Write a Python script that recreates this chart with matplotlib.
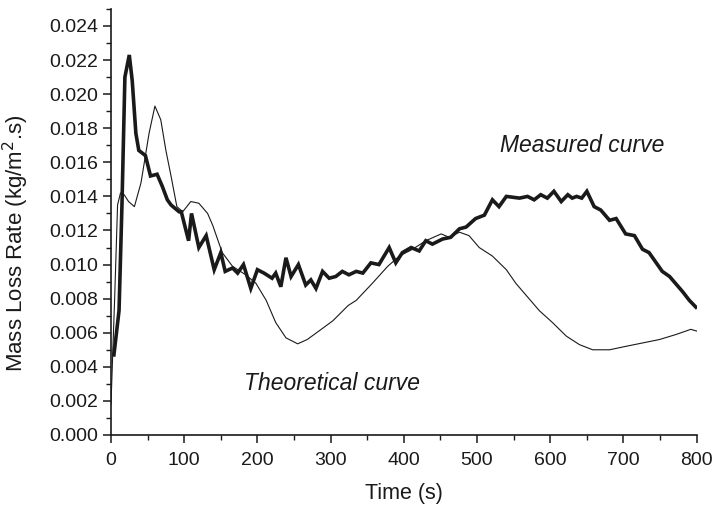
import matplotlib
matplotlib.use("Agg")
import matplotlib.pyplot as plt
from matplotlib.ticker import MultipleLocator, FormatStrFormatter

# Measured mass loss rate (thick line)
measured_t = [4, 11, 15, 19, 25, 29, 34, 38, 47, 54, 63, 70, 77, 82, 93, 96,
              106, 110, 120, 130, 141, 150, 156, 166, 173, 181, 191, 200, 209,
              220, 225, 232, 239, 246, 256, 266, 273, 280, 289, 298, 307, 316,
              325, 335, 344, 355, 366, 380, 389, 398, 410, 421, 430, 439, 453,
              464, 476, 485, 498, 510, 521, 530, 540, 558, 569, 578, 587, 596,
              605, 615, 624, 630, 636, 643, 650, 660, 669, 681, 690, 703, 715,
              726, 735, 753, 763, 781, 790, 799]
measured_v = [0.0047, 0.0073, 0.0135, 0.0210, 0.0223, 0.0208, 0.0177, 0.0167,
              0.0164, 0.0152, 0.0153, 0.0146, 0.0138, 0.0135, 0.0131, 0.0131,
              0.0114, 0.0130, 0.0110, 0.0117, 0.0097, 0.0107, 0.0096, 0.0098,
              0.0095, 0.0100, 0.0086, 0.0097, 0.0095, 0.0092, 0.0095, 0.0087,
              0.0104, 0.0093, 0.0100, 0.0088, 0.0091, 0.0086, 0.0096, 0.0092,
              0.0093, 0.0096, 0.0094, 0.0096, 0.0095, 0.0101, 0.0100, 0.0110,
              0.0101, 0.0107, 0.0110, 0.0108, 0.0114, 0.0112, 0.0115, 0.0116,
              0.0121, 0.0122, 0.0127, 0.0129, 0.0138, 0.0134, 0.0140, 0.0139,
              0.0140, 0.0138, 0.0141, 0.0139, 0.0143, 0.0137, 0.0141, 0.0139,
              0.0140, 0.0139, 0.0143, 0.0134, 0.0132, 0.0126, 0.0127, 0.0118,
              0.0117, 0.0109, 0.0107, 0.0096, 0.0093, 0.0084, 0.0079, 0.0075]

# Theoretical mass loss rate (thin line)
theory_t = [0, 5, 9, 13, 18, 24, 32, 41, 52, 60, 68, 75, 82, 90, 98, 109, 120,
            132, 139, 152, 166, 184, 198, 212, 225, 239, 255, 268, 284, 303,
            324, 335, 357, 378, 394, 412, 430, 451, 462, 476, 489, 503, 521,
            540, 553, 567, 585, 603, 622, 640, 658, 681, 703, 726, 749, 772,
            792, 800]
theory_v = [0.0018, 0.0080, 0.0135, 0.0142, 0.0141, 0.0137, 0.0134, 0.0148,
            0.0177, 0.0193, 0.0185, 0.0167, 0.0152, 0.0134, 0.0131, 0.0137,
            0.0136, 0.0130, 0.0123, 0.0107, 0.0099, 0.0094, 0.0089, 0.0079,
            0.0066, 0.0057, 0.00535, 0.0056, 0.0061, 0.0067, 0.0076, 0.0079,
            0.0089, 0.0099, 0.0105, 0.0109, 0.0114, 0.0118, 0.0116, 0.0119,
            0.0117, 0.0110, 0.0105, 0.0097, 0.0089, 0.0082, 0.0073, 0.0066,
            0.0058, 0.0053, 0.0050, 0.0050, 0.0052, 0.0054, 0.0056, 0.0059,
            0.0062, 0.0061]

plt.rcParams["font.family"] = ["Liberation Sans", "DejaVu Sans"]

fig = plt.figure(figsize=(7.16, 5.09), dpi=100)
ax = fig.add_axes([0.155, 0.1454, 0.818, 0.837])

ink = "#1a1a1a"
ax.plot(theory_t, theory_v, color=ink, lw=0.8, zorder=3)
ax.plot(measured_t, measured_v, color=ink, lw=2.6, solid_joinstyle="miter", zorder=4)

ax.text(531, 0.0170, "Measured curve", style="italic", fontsize=16.5,
        color=ink, va="center", ha="left")
ax.text(182, 0.0030, "Theoretical curve", style="italic", fontsize=16.5,
        color=ink, va="center", ha="left")

ax.set_xlim(0, 800)
ax.set_ylim(0, 0.025)
ax.xaxis.set_major_locator(MultipleLocator(100))
ax.xaxis.set_minor_locator(MultipleLocator(50))
ax.yaxis.set_major_locator(MultipleLocator(0.002))
ax.yaxis.set_minor_locator(MultipleLocator(0.001))
ax.yaxis.set_major_formatter(FormatStrFormatter("%.3f"))

for side in ("top", "right"):
    ax.spines[side].set_visible(False)
for side in ("left", "bottom"):
    ax.spines[side].set_linewidth(1.2)
    ax.spines[side].set_color(ink)

ax.tick_params(which="major", direction="out", length=6, width=1.1,
               labelsize=14, colors=ink, pad=3)
ax.tick_params(axis="x", which="major", pad=6)
ax.tick_params(which="minor", direction="out", length=3.5, width=1.0, colors=ink)

ax.set_xlabel("Time (s)", fontsize=15.5, color=ink)
ax.set_ylabel("Mass Loss Rate (kg/m$^2$.s)", fontsize=16, color=ink)
ax.xaxis.set_label_coords(0.5, -0.112)
ax.yaxis.set_label_coords(-0.137, 0.45)

fig.savefig("out.png", dpi=100)
